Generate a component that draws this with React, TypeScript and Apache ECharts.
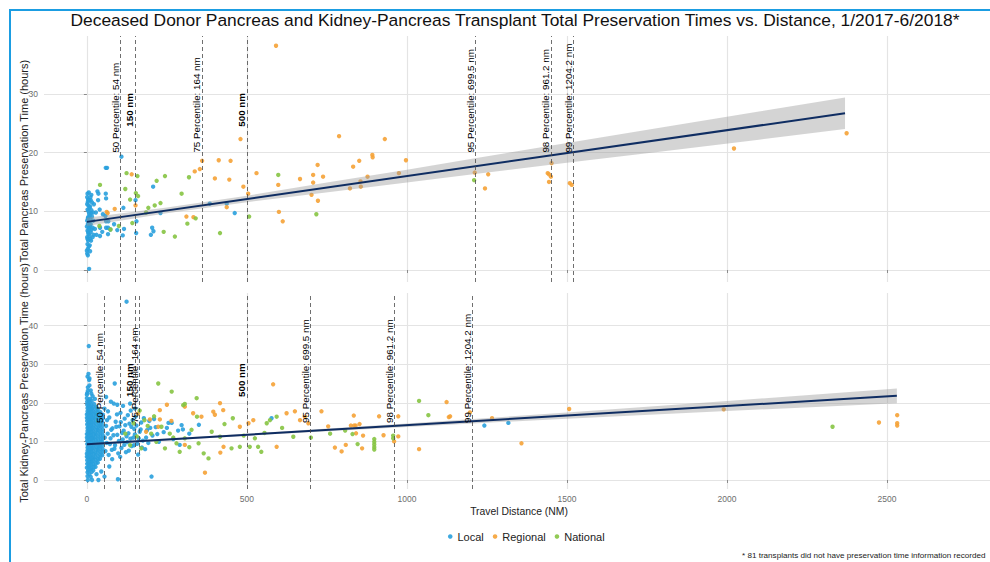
import React, { useEffect, useRef } from "react";
import * as echarts from "echarts";

// ---------- text ----------
const titleText =
  "Deceased Donor Pancreas and Kidney-Pancreas Transplant Total Preservation Times vs. Distance, 1/2017-6/2018*";
const topYTitle = "Total Pancreas Preservation Time (hours)";
const bottomYTitle = "Total Kidney-Pancreas Preservation Time (hours)";
const xTitle = "Travel Distance (NM)";
const footnote = "* 81 transplants did not have preservation time information recorded";
const seriesNames = ["Local", "Regional", "National"];
const seriesColors = ["#29a0dd", "#f5a236", "#86c443"];

// ---------- ticks ----------
const xTicks = [0, 500, 1000, 1500, 2000, 2500];
const topYTicks = [0, 10, 20, 30];
const bottomYTicks = [0, 10, 20, 30, 40];

// ---------- reference lines ----------
const pctLabels = [
  "50 Percentile: 54 nm",
  "75 Percentile: 164 nm",
  "95 Percentile: 699.5 nm",
  "98 Percentile: 961.2 nm",
  "99 Percentile: 1204.2 nm",
];
const markLabels = ["150 nm", "500 nm"];
const topPctX = [105, 359, 1213, 1450, 1519];
const topMarkX = [150, 500];
const bottomPctX = [54, 164, 699.5, 961.2, 1204.2];
const bottomMarkX = [150, 500];
const bottomExtraX = [105];
const topPctLabelY = 20;
const topMarkLabelY = 24.4;
const bottomPctLabelY = 14.8;
const bottomMarkLabelY = 21.5;

// ---------- regression fits ----------
const topFitX = [0, 2369];
const topFitY = [8.2, 26.7];
const topBandX = [0, 250, 500, 760, 1000, 1213, 1519, 1790, 2100, 2369];
const topBandLo = [7.5, 9.65, 11.55, 13.3, 14.9, 16.35, 18.4, 20.15, 22.2, 24.0];
const topBandHi = [8.9, 10.65, 12.65, 15.0, 17.1, 19.05, 21.8, 24.25, 27.0, 29.4];

const bottomFitX = [0, 2531];
const bottomFitY = [9.25, 21.8];
const bottomBandX = [0, 500, 1000, 1500, 2000, 2531];
const bottomBandLo = [8.95, 11.48, 13.76, 15.89, 17.87, 19.9];
const bottomBandHi = [9.55, 11.98, 14.66, 17.49, 20.47, 23.7];

// ---------- top panel: pancreas ----------
const topLocal = [
  [1, 2.8], [3, 3.6], [2, 4.4], [4, 5.0], [1, 5.6], [5, 6.1], [2, 6.7], [6, 7.2], [3, 7.8], [1, 8.4],
  [4, 9.0], [7, 9.6], [2, 10.3], [5, 11.0], [3, 11.6], [1, 12.4], [6, 13.2], [9, 4.2], [10, 5.3], [12, 6.4],
  [9, 7.5], [11, 8.6], [13, 9.7], [10, 10.8], [12, 11.9], [8, 8.0], [15, 6.9], [16, 9.1], [14, 12.8], [18, 5.6],
  [20, 8.4], [22, 11.2], [7, 0.2], [25, 7.0], [28, 9.8], [30, 6.0], [33, 13.4], [36, 13.0], [35, 11.9], [59, 17.4],
  [63, 17.4], [59, 13.0], [60, 12.2], [40, 10.3], [58, 9.2], [60, 8.3], [67, 8.3], [41, 7.2], [60, 7.2], [66, 7.2],
  [73, 6.9], [41, 5.8], [66, 6.1], [108, 19.3], [114, 10.6], [112, 5.9], [116, 7.0], [152, 11.9], [155, 8.3], [207, 14.2],
  [204, 7.2], [200, 6.0], [208, 6.6], [154, 6.3], [230, 9.7], [384, 11.3], [437, 11.3], [462, 9.7], [50, 9.5], [48, 6.5],
  [85, 7.8], [95, 6.8],
  [0, 3.3], [2, 5.3], [4, 6.4], [0, 7.4], [3, 8.8], [5, 10.0], [1, 11.2], [4, 12.0], [2, 13.0], [6, 4.0],
  [8, 5.8], [7, 7.0], [9, 9.2], [8, 10.6], [11, 12.4], [13, 5.0], [12, 7.8], [14, 10.2], [6, 11.9], [10, 3.2],
  [16, 11.5], [18, 7.2], [19, 9.8], [21, 6.0], [3, 2.5],
];
const topRegional = [
  [591, 38.2], [480, 22.3], [360, 18.6], [412, 18.7], [449, 18.6], [337, 16.8], [353, 17.2], [400, 15.6], [445, 15.4], [489, 14.2],
  [504, 13.0], [437, 10.7], [311, 9.1], [333, 9.0], [62, 9.9], [65, 9.7], [87, 10.4], [152, 11.0], [140, 16.3], [530, 16.5],
  [598, 14.5], [600, 9.9], [612, 8.3], [666, 15.5], [707, 16.2], [721, 17.9], [738, 15.9], [702, 12.8], [707, 14.9], [722, 11.8],
  [788, 22.8], [931, 22.3], [892, 19.6], [893, 19.2], [851, 18.6], [832, 17.6], [877, 15.9], [856, 14.2], [997, 18.7], [975, 16.5],
  [822, 13.9], [855, 15.1], [1212, 16.6], [1254, 16.3], [1244, 13.9], [1452, 18.2], [1440, 16.5], [1444, 16.3], [1450, 15.9], [1444, 15.0],
  [1509, 14.8], [1515, 14.5], [2022, 20.7], [2374, 23.3],
];
const topNational = [
  [41, 14.5], [124, 16.5], [120, 13.8], [142, 8.0], [153, 13.1], [160, 12.6], [192, 10.6], [218, 15.2], [244, 16.0], [230, 11.4],
  [275, 5.7], [296, 13.0], [319, 15.8], [314, 7.9], [340, 8.8], [416, 6.3], [507, 9.1], [598, 16.2], [212, 11.0], [39, 7.5],
  [74, 6.9], [158, 16.0], [135, 12.0], [100, 7.5], [185, 9.8], [240, 6.5], [717, 9.5], [1210, 15.3],
];

// ---------- bottom panel: kidney-pancreas ----------
const bottomLocal = [
  [0, 3.2], [1, 5.1], [0, 6.8], [2, 8.4], [1, 10.2], [0, 11.9], [2, 13.5], [1, 15.3], [0, 17.0], [2, 18.6],
  [1, 20.3], [0, 22.1], [4, 2.5], [5, 4.3], [4, 6.0], [6, 7.7], [5, 9.4], [4, 11.1], [6, 12.8], [5, 14.6],
  [4, 16.2], [6, 17.9], [5, 19.6], [9, 3.6], [10, 5.4], [9, 7.1], [11, 8.8], [10, 10.5], [9, 12.2], [11, 14.0],
  [10, 15.7], [9, 17.4], [11, 19.1], [10, 21.0], [14, 3.0], [15, 4.8], [14, 6.5], [16, 8.2], [15, 9.9], [14, 11.6],
  [16, 13.3], [15, 15.0], [14, 16.8], [16, 18.5], [15, 20.5], [20, 4.1], [21, 5.8], [20, 7.5], [22, 9.2], [21, 10.9],
  [20, 12.6], [22, 14.3], [21, 16.1], [20, 17.8], [22, 19.7], [27, 3.4], [28, 5.2], [27, 6.9], [29, 8.6], [28, 10.3],
  [27, 12.0], [29, 13.7], [28, 15.4], [27, 17.2], [29, 19.0], [34, 4.5], [35, 6.2], [34, 7.9], [36, 9.6], [35, 11.3],
  [34, 13.0], [36, 14.8], [35, 16.5], [34, 18.3], [41, 5.5], [42, 7.2], [41, 8.9], [43, 10.6], [42, 12.3], [41, 14.1],
  [43, 15.9], [42, 17.6], [48, 6.4], [49, 8.1], [48, 9.8], [50, 11.5], [49, 13.2], [48, 15.0], [50, 16.9],
  [1, 4.2], [0, 6.0], [2, 7.6], [1, 9.3], [0, 11.0], [2, 12.7], [1, 14.4], [0, 16.1], [2, 17.8], [1, 19.5],
  [0, 21.2], [2, 2.0], [5, 3.4], [6, 5.2], [4, 6.9], [5, 8.5], [6, 10.2], [4, 12.0], [5, 13.7], [6, 15.4],
  [4, 17.1], [5, 18.8], [6, 20.6], [10, 2.7], [9, 4.5], [11, 6.2], [10, 8.0], [9, 9.6], [11, 11.4], [10, 13.1],
  [9, 14.8], [11, 16.6], [10, 18.3], [9, 20.1], [15, 2.1], [14, 3.9], [16, 5.6], [15, 7.3], [14, 9.0], [16, 10.8],
  [15, 12.5], [14, 14.2], [16, 15.9], [15, 17.7], [14, 19.4], [21, 3.3], [20, 5.0], [22, 6.7], [21, 8.4], [20, 10.1],
  [22, 11.8], [21, 13.5], [20, 15.2], [22, 17.0], [21, 18.8], [28, 4.3], [27, 6.0], [29, 7.8], [28, 9.5], [27, 11.2],
  [29, 12.9], [28, 14.6], [27, 16.3], [29, 18.1], [35, 5.4], [34, 7.1], [36, 8.8], [35, 10.5], [34, 12.2], [36, 13.9],
  [35, 15.7], [34, 17.4], [42, 6.4], [41, 8.1], [43, 9.8], [42, 11.5], [41, 13.2], [43, 15.0], [42, 16.8], [49, 7.3],
  [48, 9.0], [50, 10.7], [49, 12.4], [48, 14.1], [50, 16.0],
  [3, 23.1], [8, 24.5], [14, 22.4], [2, 26.8], [18, 21.7], [25, 21.0], [5, 27.5], [2, 1.0], [8, 1.5], [12, 0.8],
  [20, 2.5],
  [6, 34.7], [7, 25.9], [8, 26.3], [1, 22.5], [3, 24.0], [12, 23.2], [3, 0], [16, 0], [36, 0], [55, 0.9],
  [97, 0.2], [202, 0.9], [87, 25.0], [124, 46.2], [113, 19.2], [30, 1.5], [45, 2.2], [70, 3.5],
  [55, 18.5], [60, 14.0], [62, 9.6], [65, 12.0], [68, 6.5], [70, 16.2], [74, 10.8], [78, 7.8], [80, 13.4], [84, 19.8],
  [88, 9.0], [90, 15.1], [95, 11.7], [98, 6.9], [102, 13.9], [105, 17.4], [108, 8.3], [112, 10.5], [115, 12.8], [118, 15.9],
  [122, 7.2], [126, 9.8], [130, 12.1], [133, 14.6], [137, 18.0], [140, 8.8], [145, 11.0], [148, 13.2], [152, 16.4], [157, 9.4],
  [160, 6.6], [165, 12.5], [170, 14.9], [175, 10.2], [182, 8.0], [188, 12.9], [195, 15.3], [205, 11.5], [215, 13.7], [225, 9.9],
  [240, 12.4], [255, 14.8], [270, 10.6], [300, 13.1], [320, 12.0], [350, 14.3], [296, 14.2], [290, 9.1], [577, 16.0], [250, 13.5],
  [265, 14.8], [285, 12.8], [1242, 14.1], [1317, 14.8],
  [56, 11.0], [58, 7.5], [63, 15.5], [66, 17.8], [72, 9.3], [76, 13.0], [79, 5.4], [83, 11.6], [86, 8.1], [92, 13.8],
  [94, 17.0], [100, 10.1], [104, 6.0], [106, 15.0], [110, 12.2], [117, 9.1], [120, 14.2], [124, 11.3], [128, 16.8], [131, 7.6],
  [136, 10.7], [139, 13.8], [143, 15.5], [147, 9.0], [150, 11.8], [155, 14.1], [162, 10.8], [168, 13.1], [172, 8.4], [178, 16.0],
  [185, 11.0], [192, 9.6], [198, 13.5], [210, 15.8], [220, 11.9], [60, 21.5], [75, 20.3], [95, 19.5], [135, 19.8], [150, 18.5],
];
const bottomRegional = [
  [582, 24.8], [228, 15.7], [228, 18.1], [416, 19.9], [332, 17.3], [358, 16.4], [395, 17.7], [426, 18.1], [400, 16.9], [369, 1.9],
  [306, 9.1], [427, 8.6], [417, 7.1], [264, 15.3], [520, 15.5], [505, 14.7], [478, 13.8], [593, 8.6], [624, 17.3], [650, 17.8],
  [666, 15.5], [681, 16.4], [692, 14.7], [733, 17.8], [754, 13.9], [223, 13.8], [197, 15.7], [775, 8.4], [796, 7.4], [809, 9.1],
  [834, 16.7], [825, 14.1], [835, 14.1], [840, 14.1], [852, 14.5], [841, 12.1], [863, 11.5], [860, 8.2], [913, 16.5], [973, 16.5],
  [927, 11.6], [973, 11.3], [960, 10.0], [1124, 20.2], [1131, 16.3], [1135, 16.5], [1038, 8.0], [1197, 17.5], [1266, 16.0], [1358, 9.5],
  [1507, 18.4], [1990, 18.3], [2475, 14.9], [2532, 16.8], [2532, 14.7], [2532, 14.1], [306, 19.0], [160, 17.2], [185, 12.5], [250, 19.5],
];
const bottomNational = [
  [223, 25.0], [301, 19.4], [146, 14.7], [156, 11.3], [170, 8.2], [180, 15.5], [201, 12.0], [217, 9.9], [233, 13.8], [244, 8.2],
  [259, 12.0], [280, 9.5], [290, 7.3], [306, 10.8], [327, 13.0], [344, 16.4], [349, 9.5], [365, 6.9], [380, 5.6], [416, 11.2],
  [452, 8.2], [456, 16.0], [478, 8.6], [509, 8.6], [525, 10.8], [535, 8.6], [545, 7.3], [562, 14.7], [572, 15.5], [593, 16.4],
  [645, 11.2], [265, 22.9], [306, 19.7], [343, 21.2], [1038, 20.5], [1067, 16.8], [830, 11.9], [846, 9.3], [807, 12.8], [898, 10.6],
  [898, 9.9], [898, 9.2], [898, 8.5], [898, 7.9], [957, 11.5], [957, 10.8], [2330, 13.8], [120, 12.0], [135, 9.0], [165, 18.0],
  [190, 14.0], [210, 16.5], [270, 11.0], [320, 8.5], [390, 12.5], [430, 14.5], [490, 11.5], [555, 12.2], [610, 13.5], [700, 11.0],
  [760, 12.0],
];

const FONT = "'Liberation Sans', Arial, Helvetica, sans-serif";

function buildOption() {
  const panels = [
    {
      local: topLocal, regional: topRegional, national: topNational,
      fitX: topFitX, fitY: topFitY, bandX: topBandX, bandLo: topBandLo, bandHi: topBandHi,
      pctX: topPctX, pctY: topPctLabelY, markX: topMarkX, markY: topMarkLabelY, extraX: [] as number[],
    },
    {
      local: bottomLocal, regional: bottomRegional, national: bottomNational,
      fitX: bottomFitX, fitY: bottomFitY, bandX: bottomBandX, bandLo: bottomBandLo, bandHi: bottomBandHi,
      pctX: bottomPctX, pctY: bottomPctLabelY, markX: bottomMarkX, markY: bottomMarkLabelY, extraX: bottomExtraX,
    },
  ];

  const series: any[] = [];
  panels.forEach((p, i) => {
    const groups = [p.local, p.regional, p.national];
    groups.forEach((g, k) => {
      series.push({
        type: "scatter",
        name: seriesNames[k],
        xAxisIndex: i,
        yAxisIndex: i,
        data: g,
        symbol: "circle",
        symbolSize: 4.4,
        itemStyle: { color: seriesColors[k], opacity: 0.9 },
        silent: true,
        z: 2,
      });
    });
    // confidence band
    series.push({
      type: "custom",
      xAxisIndex: i,
      yAxisIndex: i,
      silent: true,
      z: 3,
      data: [[0, 0]],
      renderItem: (_params: any, api: any) => {
        const pts: number[][] = [];
        p.bandX.forEach((x, j) => pts.push(api.coord([x, p.bandHi[j]])));
        for (let j = p.bandX.length - 1; j >= 0; j--) pts.push(api.coord([p.bandX[j], p.bandLo[j]]));
        return {
          type: "polygon",
          shape: { points: pts },
          style: { fill: "#999999", opacity: 0.42 },
        };
      },
    });
    // regression line
    series.push({
      type: "line",
      xAxisIndex: i,
      yAxisIndex: i,
      data: p.fitX.map((x, j) => [x, p.fitY[j]]),
      showSymbol: false,
      silent: true,
      lineStyle: { color: "#0f2d62", width: 2 },
      z: 4,
    });
    // reference lines + labels
    const labelData = [
      ...p.pctX.map((x, j) => ({ value: [x, p.pctY], name: pctLabels[j] })),
      ...p.markX.map((x, j) => ({
        value: [x, p.markY],
        name: markLabels[j],
        label: { fontWeight: "bold" },
      })),
    ];
    series.push({
      type: "scatter",
      xAxisIndex: i,
      yAxisIndex: i,
      data: labelData,
      symbolSize: 1,
      itemStyle: { color: "rgba(0,0,0,0)" },
      silent: true,
      z: 6,
      label: {
        show: true,
        formatter: "{b}",
        position: "inside",
        rotate: 90,
        align: "left",
        verticalAlign: "bottom",
        fontSize: 9.8,
        fontFamily: FONT,
        color: "#000",
        textBorderWidth: 0,
        opacity: 1,
      },
      markLine: {
        silent: true,
        symbol: ["none", "none"],
        label: { show: false },
        lineStyle: { color: "#4a4a4a", width: 0.8, type: [4, 3] },
        data: [...p.pctX, ...p.markX, ...p.extraX].map((x) => ({ xAxis: x })),
        z: 5,
      },
    });
  });

  const gridLine = { show: true, lineStyle: { color: "#e4e4e4", width: 1.2 } };
  const tickLabel = { fontSize: 8.5, color: "#6e6e6e", fontFamily: FONT };

  return {
    animation: false,
    backgroundColor: "#ffffff",
    textStyle: { fontFamily: FONT },
    grid: [
      { left: 44, top: 36, width: 946, height: 246 },
      { left: 44, top: 293, width: 946, height: 196 },
    ],
    xAxis: [0, 1].map((i) => ({
      type: "value",
      gridIndex: i,
      min: -134,
      max: 2822,
      axisLine: { show: false },
      axisTick: { show: true, length: 3, customValues: xTicks, lineStyle: { color: "#8a8a8a" } },
      axisLabel: {
        show: i === 1,
        customValues: xTicks,
        margin: 5,
        formatter: (v: number) => String(v),
        ...tickLabel,
      },
      splitLine: gridLine,
    })),
    yAxis: [
      {
        type: "value",
        gridIndex: 0,
        min: -2.04,
        max: 39.86,
        axisLine: { show: false },
        axisTick: { show: true, length: 3, customValues: topYTicks, lineStyle: { color: "#8a8a8a" } },
        axisLabel: { customValues: topYTicks, margin: 6, formatter: (v: number) => String(v), ...tickLabel },
        splitLine: gridLine,
      },
      {
        type: "value",
        gridIndex: 1,
        min: -2.33,
        max: 48.45,
        axisLine: { show: false },
        axisTick: { show: true, length: 3, customValues: bottomYTicks, lineStyle: { color: "#8a8a8a" } },
        axisLabel: { customValues: bottomYTicks, margin: 6, formatter: (v: number) => String(v), ...tickLabel },
        splitLine: gridLine,
      },
    ],
    legend: {
      data: seriesNames,
      left: 443,
      top: 526,
      orient: "horizontal",
      icon: "circle",
      itemWidth: 4.5,
      itemHeight: 4.5,
      itemGap: 9,
      textStyle: { fontSize: 11, color: "#222", fontFamily: FONT },
    },
    graphic: [
      { type: "rect", shape: { x: 9, y: 9, width: 990, height: 2 }, style: { fill: "#1b9de2" }, silent: true },
      { type: "rect", shape: { x: 9, y: 9, width: 2, height: 560 }, style: { fill: "#1b9de2" }, silent: true },
      {
        type: "text",
        x: 515,
        y: 20,
        style: { text: titleText, fontSize: 17.4, fontFamily: FONT, fill: "#111", align: "center", verticalAlign: "middle" },
        silent: true,
      },
      {
        type: "text",
        x: 24,
        y: 161,
        rotation: Math.PI / 2,
        style: { text: topYTitle, fontSize: 11, fontFamily: FONT, fill: "#222", align: "center", verticalAlign: "middle" },
        silent: true,
      },
      {
        type: "text",
        x: 24,
        y: 383,
        rotation: Math.PI / 2,
        style: { text: bottomYTitle, fontSize: 11, fontFamily: FONT, fill: "#222", align: "center", verticalAlign: "middle" },
        silent: true,
      },
      {
        type: "text",
        x: 519,
        y: 511,
        style: { text: xTitle, fontSize: 10.4, fontFamily: FONT, fill: "#222", align: "center", verticalAlign: "middle" },
        silent: true,
      },
      {
        type: "text",
        x: 742,
        y: 555,
        style: { text: footnote, fontSize: 8.1, fontFamily: FONT, fill: "#222", align: "left", verticalAlign: "middle" },
        silent: true,
      },
    ],
    series,
  };
}

export default function App() {
  const ref = useRef<HTMLDivElement>(null);
  useEffect(() => {
    if (!ref.current) return;
    const chart = echarts.init(ref.current, null, { renderer: "svg" });
    chart.setOption(buildOption() as any);
    return () => chart.dispose();
  }, []);
  return (
    <div
      ref={ref}
      style={{ position: "fixed", left: 0, top: 0, width: 990, height: 562, background: "#fff" }}
    />
  );
}
